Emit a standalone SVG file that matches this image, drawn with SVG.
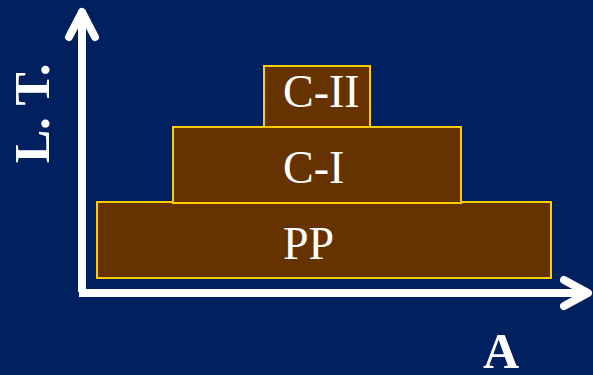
<svg xmlns="http://www.w3.org/2000/svg" width="593" height="375" viewBox="0 0 593 375">
<style>
.box{fill:#663300;stroke:#FFCC00;stroke-width:2}
.lbl{font-family:"Liberation Serif","Times New Roman",serif;font-size:46px;fill:#FFFFFF}
.ax{font-family:"Liberation Serif","Times New Roman",serif;font-size:50px;font-weight:bold;fill:#FFFFFF}
.axis{stroke:#FFFFFF;stroke-width:8;fill:none;stroke-linecap:round;stroke-linejoin:round}
</style>
<rect width="593" height="375" fill="#002060"/>
<g id="connectors">
<path class="axis" d="M82,292 V10" style="stroke-linecap:butt"/>
<path class="axis" d="M69,37 L82,12 L95,37"/>
<path class="axis" d="M79,293 H588" style="stroke-linecap:butt"/>
<path class="axis" d="M564,280 L588,293 L564,306"/>
</g>
<g id="pp">
<rect class="box" x="97" y="202" width="454" height="76"/>
<text class="lbl" x="283" y="259">PP</text>
</g>
<g id="c1">
<rect class="box" x="173" y="127" width="288" height="76"/>
<text class="lbl" x="283" y="183">C-I</text>
</g>
<g id="c2">
<rect class="box" x="264" y="66" width="106" height="61"/>
<text class="lbl" x="283" y="107">C-II</text>
</g>
<g id="labels">
<text class="ax" transform="translate(49,163) rotate(-90)">L. T.</text>
<text class="ax" x="483" y="368">A</text>
</g>
</svg>
